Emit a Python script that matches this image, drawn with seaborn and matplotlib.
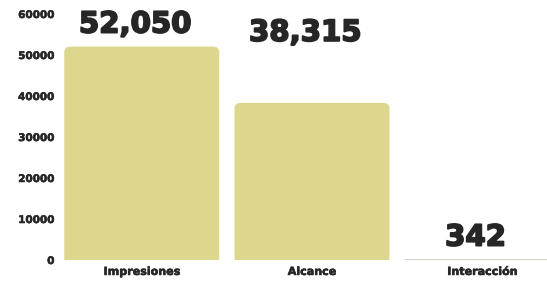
# -*- coding: utf-8 -*-

import matplotlib
matplotlib.use('Agg')
import matplotlib.pyplot as plt
import matplotlib.patheffects as pe
import seaborn as sns
from matplotlib.patches import FancyBboxPatch

categories = ['Impresiones', 'Alcance', 'Interacción']
values = [52050, 38315, 342]
value_labels = ['52,050', '38,315', '342']
yticks = [0, 10000, 20000, 30000, 40000, 50000, 60000]

BAR_COLOR = '#ddd78d'
TEXT_COLOR = '#262626'


def make_plot():
    sns.set_style('white')
    plt.rcParams['font.family'] = ['DejaVu Sans']

    fig = plt.figure(figsize=(5.47, 2.85), dpi=100)
    ax = fig.add_axes([60 / 547, 25 / 285, 487 / 547, 255 / 285])

    sns.barplot(x=categories, y=values, color=BAR_COLOR, width=0.91,
                saturation=1, ax=ax)

    ax.set_xlim(-0.48, 2.38)
    ax.set_ylim(0, 62195)

    # swap the plain rectangles for ones with rounded top corners
    px_x = 2.86 / 487
    px_y = 62195 / 255
    for patch in list(ax.patches):
        x, w, h = patch.get_x(), patch.get_width(), patch.get_height()
        patch.remove()
        if h > 4 * px_y:
            rounded = FancyBboxPatch(
                (x, -20 * px_y), w, h + 20 * px_y,
                boxstyle=f'round,pad=0,rounding_size={6 * px_x}',
                mutation_aspect=px_y / px_x,
                facecolor=BAR_COLOR, edgecolor='none')
        else:
            rounded = FancyBboxPatch(
                (x, 0), w, 1.2 * px_y, boxstyle='square,pad=0',
                facecolor='#d8d6c8', edgecolor='none')
        ax.add_patch(rounded)

    heavy = [pe.Stroke(linewidth=1.3, foreground=TEXT_COLOR), pe.Normal()]
    offsets = [14, 62, 13]
    for i, (val, lab) in enumerate(zip(values, value_labels)):
        ax.text(i - 0.04, val + offsets[i] * px_y, lab,
                ha='center', va='baseline', fontsize=21, fontweight='bold',
                color=TEXT_COLOR, clip_on=False, path_effects=heavy)

    ax.set_yticks(yticks)
    ax.set_yticklabels([str(t) for t in yticks])
    ax.tick_params(axis='y', length=0, pad=4, labelsize=7.5, labelcolor=TEXT_COLOR)
    ax.tick_params(axis='x', length=0, pad=5, labelsize=8, labelcolor=TEXT_COLOR)
    small_heavy = [pe.Stroke(linewidth=0.4, foreground=TEXT_COLOR), pe.Normal()]
    for lab in ax.get_yticklabels() + ax.get_xticklabels():
        lab.set_fontweight('bold')
        lab.set_path_effects(small_heavy)
    ax.set_xlabel('')
    ax.set_ylabel('')
    sns.despine(ax=ax, left=True, bottom=True)

    fig.savefig('out.png', dpi=100)
    plt.close(fig)


if __name__ == '__main__':
    make_plot()
